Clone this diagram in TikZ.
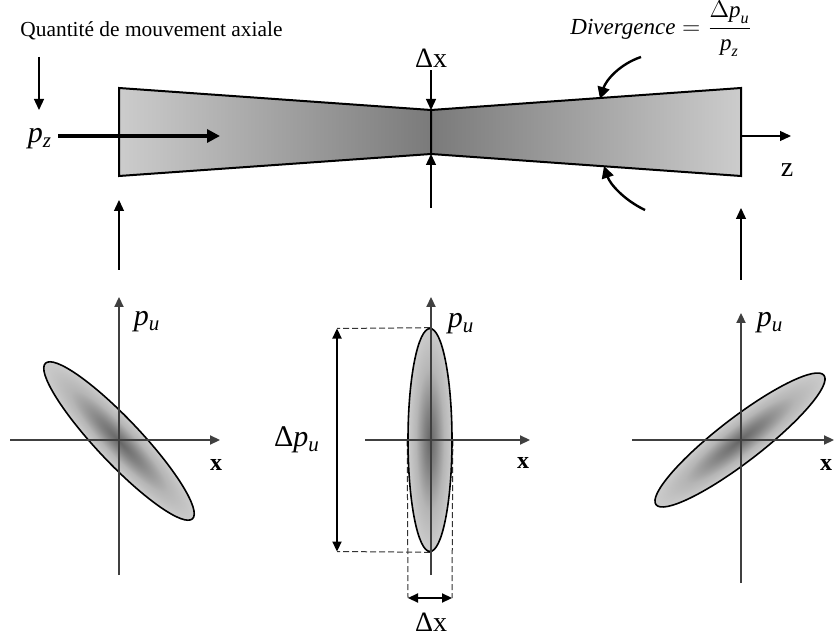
\documentclass[tikz,border=0pt]{standalone}
\usepackage{amsmath}
\usepackage{fontspec}
\setmainfont{Liberation Serif}
\usetikzlibrary{arrows.meta,shapes.geometric,backgrounds}
\newcommand{\pvar}[1]{\textit{p}\textsubscript{\textit{#1}}}
\pgfdeclareradialshading{phaseblob}{\pgfpoint{0bp}{0bp}}{color(0bp)=(black!60); color(7bp)=(black!48); color(16bp)=(black!29); color(24bp)=(black!21); color(50bp)=(black!20)}
\tikzset{
  arr/.style={line width=0.65pt,-{Triangle[length=5.5pt,width=5pt]}},
  darr/.style={line width=0.65pt,{Triangle[length=5pt,width=4.6pt]}-{Triangle[length=5pt,width=4.6pt]}},
  bigarr/.style={line width=1.6pt,-{Triangle[length=6.5pt,width=6.5pt]}},
  bentarr/.style={line width=1.2pt,-{Triangle[length=6pt,width=6pt]}},
  phaseaxis/.style={draw=black!75,line width=0.65pt,-{Triangle[length=5pt,width=4.6pt]}},
  dashline/.style={draw=black!80,line width=0.5pt,dash pattern=on 3pt off 1.5pt},
  beamline/.style={line width=1pt,line join=miter},
  phase/.style={ellipse,draw,line width=0.8pt,inner sep=0pt,shading=phaseblob},
  title/.style={font=\fontsize{10.7}{13}\selectfont,inner sep=0pt},
  plbl/.style={font=\fontsize{15}{18}\selectfont,inner sep=1pt},
  dlbl/.style={font=\fontsize{14}{17}\selectfont,inner sep=1pt},
  xlbl/.style={font=\fontsize{12}{14}\selectfont\bfseries,inner sep=1pt}
}
\begin{document}
\begin{tikzpicture}[x=0.5pt,y=-0.5pt]
\useasboundingbox (0,0) rectangle (834,641);
% beam envelope
\coordinate (bl-t) at (119,88);
\coordinate (bl-b) at (119,176);
\coordinate (w-t) at (431,110);
\coordinate (w-b) at (431,154);
\coordinate (br-t) at (741,88);
\coordinate (br-b) at (741,176);
\shade[left color=black!20,right color=black!52] (bl-t) -- (w-t) -- (w-b) -- (bl-b) -- cycle;
\shade[left color=black!52,right color=black!20] (w-t) -- (br-t) -- (br-b) -- (w-b) -- cycle;
\draw[beamline] (bl-t) -- (w-t) -- (br-t) -- (br-b) -- (w-b) -- (bl-b) -- cycle (w-t) -- (w-b);
% axial momentum
\node[title,anchor=base west] (qma) at (20,37) {Quantité de mouvement axiale};
\coordinate (qma-a) at (39,57);
\coordinate (qma-b) at (39,110);
\draw[arr] (qma-a) -- (qma-b);
\node[plbl] (pz) at (40,139) {\pvar{z}};
\coordinate (pz-in) at (220,136);
\draw[bigarr] ([xshift=2pt]pz.east |- pz-in) -- (pz-in);
% waist
\node[dlbl,anchor=base] (dxt) at (431,68) {Δx};
\coordinate (dxb) at (431,208);
\draw[arr] (dxt.south) -- (w-t);
\draw[arr] (dxb) -- (w-b);
% divergence
\node[font=\fontsize{11.5}{14}\selectfont,anchor=west,inner sep=0pt] (div) at (570,29)
  {$\textit{Divergence}=\dfrac{\Delta\textit{p}_{\textit{u}}}{\textit{p}_{\textit{z}}}$};
\coordinate (dv1a) at (641,57);
\coordinate (dv1b) at (600,99);
\coordinate (dv2a) at (645,210);
\coordinate (dv2b) at (604,166);
\draw[bentarr] (dv1a) .. controls (620,64) and (606,80) .. (dv1b);
\draw[bentarr] (dv2a) .. controls (624,200) and (610,184) .. (dv2b);
% z axis
\coordinate (zax) at (741,136);
\coordinate (zend) at (791,136);
\draw[arr] (zax) -- (zend);
\node[dlbl] (zl) at (787,170) {z};
% from phase space to beam
\coordinate (upL-a) at (119,270);
\coordinate (upR-a) at (741,280);
\draw[arr] (upL-a) -- (119,200);
\draw[arr] (upR-a) -- (741,208);
% tilted phase ellipses
\foreach \n/\cx/\cy/\len/\ang in {L/119/441/107/-46.6, R/740/440/106/37.6}{
  \begin{scope}[transform canvas={shift={(\cx,\cy)},rotate=\ang}]
    \node[phase,minimum width=\len pt,minimum height=22pt] (ell\n) at (0,0) {};
  \end{scope}
}
% upright phase ellipse at the waist
\node[phase,minimum width=22pt,minimum height=111.5pt] (ellM) at (430,440) {};
\coordinate (dpu-t) at (337,328.5);
\coordinate (dpu-b) at (337,551.5);
\coordinate (dxl) at (408,598);
\coordinate (dxr) at (452,598);
\begin{scope}[on background layer]
  \draw[dashline] (ellM.north) -- (dpu-t);
  \draw[dashline] (ellM.south) -- (dpu-b);
  \draw[dashline] (ellM.west) -- (dxl);
  \draw[dashline] (ellM.east) -- (dxr);
\end{scope}
\draw[darr] (dpu-t) -- (dpu-b);
\draw[darr] (dxl) -- (dxr);
\node[plbl] (dpu) at (297,440) {Δ\pvar{u}};
\node[dlbl] (dxm) at (431,622) {Δx};
% phase space axes
\foreach \cx/\xl/\xr/\yt/\yb in {119/10/220/297/575, 431/365/530/297/575, 741/632/834/313/583}{
  \draw[phaseaxis] (\xl,440) -- (\xr,440);
  \draw[phaseaxis] (\cx,\yb) -- (\cx,\yt);
}
\node[plbl] (puL) at (147,322) {\pvar{u}};
\node[plbl] (puM) at (461,324) {\pvar{u}};
\node[plbl] (puR) at (770,323) {\pvar{u}};
\node[xlbl] (xL) at (216,465) {x};
\node[xlbl] (xM) at (523,463) {x};
\node[xlbl] (xR) at (826,465) {x};
\end{tikzpicture}
\end{document}
